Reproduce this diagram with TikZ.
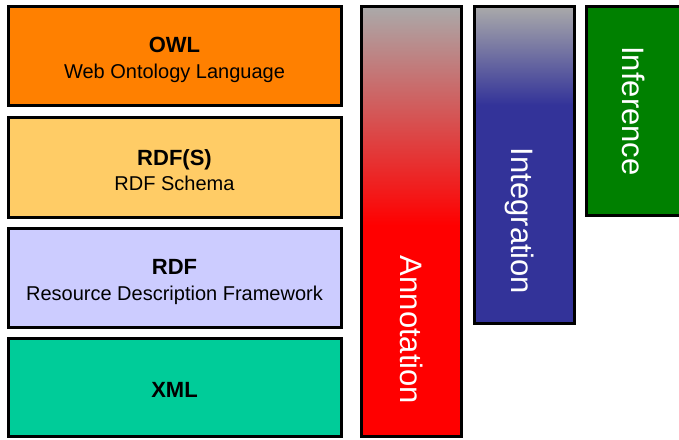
\documentclass[tikz,border=0pt]{standalone}
\usepackage{fontspec}
\setmainfont{Liberation Sans}
\begin{document}
\begin{tikzpicture}[x=1pt,y=-1pt,
  layer/.style={draw=black, line width=3pt, minimum width=333pt, align=center,
    inner sep=0pt, outer sep=0pt, font=\fontsize{20}{24}\selectfont},
  bar/.style={draw=black, line width=3pt, inner sep=0pt, outer sep=0pt},
  barlabel/.style={text=white, rotate=-90, font=\fontsize{31}{36}\selectfont, inner sep=0pt},
  ttl/.style={font=\fontsize{22}{26}\selectfont\bfseries}
]
\definecolor{owlorange}{HTML}{FF8000}
\definecolor{rdfsyellow}{HTML}{FFCC66}
\definecolor{rdflilac}{HTML}{CCCCFF}
\definecolor{xmlgreen}{HTML}{00CC99}
\definecolor{annred}{HTML}{FF0000}
\definecolor{intblue}{HTML}{333399}
\definecolor{infgreen}{HTML}{008000}
\definecolor{fadegray}{HTML}{AAAAAA}

\useasboundingbox (0,0) rectangle (679,439);
\clip (0,0) rectangle (679,439);

% stacked language layers
\node[layer, fill=owlorange, minimum height=99pt] (owl) at (174.5,55.5) {};
\node[align=center, font=\fontsize{20}{24}\selectfont] (owlt) at (174.5,59.5)
  {{\fontsize{22}{26}\selectfont\bfseries OWL}\\[2pt] Web Ontology Language};
\node[layer, fill=rdfsyellow, minimum height=100pt] (rdfs) at (174.5,167) {};
\node[align=center, font=\fontsize{20}{24}\selectfont] (rdfst) at (174.5,170.5)
  {{\fontsize{22}{26}\selectfont\bfseries RDF(S)}\\[1pt] RDF Schema};
\node[layer, fill=rdflilac, minimum height=99pt] (rdf) at (174.5,277.5) {};
\node[align=center, font=\fontsize{20}{24}\selectfont] (rdft) at (174.5,282)
  {{\fontsize{22}{26}\selectfont\bfseries RDF}\\[2pt] Resource Description Framework};
\node[layer, fill=xmlgreen, minimum height=98pt] (xml) at (174.5,387.5) {};
\node[font=\fontsize{22}{26}\selectfont\bfseries] (xmlt) at (174.5,389.5) {XML};

% Annotation bar: gray fading into red, then solid red
\shade[top color=fadegray, bottom color=annred] (361,6) rectangle (461,225);
\fill[annred] (361,225) rectangle (461,436.5);
\node[bar, minimum width=100pt, minimum height=430.5pt] (annot) at (411,221.25) {};
\node[barlabel] (annotl) at (412,330) {Annotation};

% Integration bar: gray fading into blue, then solid blue
\shade[top color=fadegray, bottom color=intblue] (474,6) rectangle (574,105);
\fill[intblue] (474,105) rectangle (574,323);
\node[bar, minimum width=100pt, minimum height=317pt] (integ) at (524,164.5) {};
\node[barlabel] (integl) at (520,221) {Integration};

% Inference bar, running past the right edge
\node[bar, fill=infgreen, minimum width=110pt, minimum height=209pt] (infer) at (641,110.5) {};
\node[barlabel] (inferl) at (634,111) {Inference};
\end{tikzpicture}
\end{document}
